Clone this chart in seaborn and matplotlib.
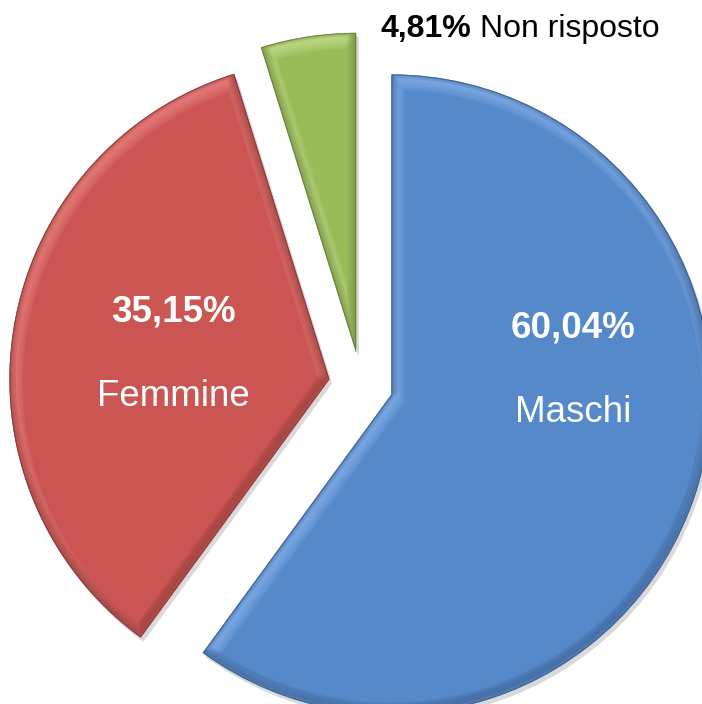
import numpy as np
import matplotlib
matplotlib.use("Agg")
import matplotlib.pyplot as plt
import matplotlib.patheffects as pe
import matplotlib.transforms as mtransforms
from matplotlib.patches import Wedge
import seaborn as sns

# data
categories = ["Maschi", "Femmine", "Non risposto"]
shares = [60.04, 35.15, 4.81]
pct_labels = ["60,04%", "35,15%", "4,81%"]
colors = ["#5589C9", "#CB5553", "#9BBB59"]
light_colors = ["#8DB6EE", "#EE8A88", "#C8E396"]
dark_colors = ["#2E4F7C", "#7A2B2A", "#566F27"]

sns.set_theme(style="white")
plt.rcParams["font.family"] = ["Liberation Sans", "DejaVu Sans"]

W, H = 702, 704
fig = plt.figure(figsize=(W / 100, H / 100), dpi=100)
ax = fig.add_axes([0, 0, 1, 1])

wedges, _ = ax.pie(
    shares, colors=colors, startangle=90, counterclock=False,
    explode=[0.1, 0.1, 0.1], radius=1.0,
    wedgeprops=dict(linewidth=0),
)

# pie centre and radius in pixels (limits set after pie, which resets them)
cx, cy, rad = 361, 384.5, 320
ax.set_xlim(-cx / rad, (W - cx) / rad)
ax.set_ylim(-(H - cy) / rad, cy / rad)
ax.set_aspect("equal")
ax.axis("off")


def shifted(dx, dy):
    return ax.transData + mtransforms.ScaledTranslation(dx / 72, dy / 72, fig.dpi_scale_trans)


def edge_stroke(w, col, lw, d, a):
    p = Wedge(w.center, w.r, w.theta1, w.theta2, facecolor="none",
              edgecolor=col, linewidth=lw, alpha=a, joinstyle="miter",
              transform=shifted(*d))
    ax.add_patch(p)
    p.set_clip_path(w)


# soft bevel: light band on upper edges, dark band on lower edges
for w, lc, dc in zip(wedges, light_colors, dark_colors):
    w.set_path_effects([
        pe.SimplePatchShadow(offset=(2, -3), shadow_rgbFace="#000000", alpha=0.15),
        pe.Normal(),
    ])
    for lw in [4, 8, 12, 16]:
        edge_stroke(w, lc, lw, (1.5, -3), 0.22)
    for lw in [2, 5, 8, 11]:
        edge_stroke(w, dc, lw, (-1, 3), 0.16)
    edge_stroke(w, dc, 1.5, (0, 0), 0.6)


def px(x, y):
    return x / W, 1 - y / H


white = dict(color="white", ha="center", va="center", fontsize=26.5)
fig.text(*px(573, 328), pct_labels[0], fontweight="bold", **white)
fig.text(*px(573, 412), categories[0], **white)
fig.text(*px(173, 312), pct_labels[1], fontweight="bold", **white)
fig.text(*px(173, 397), categories[1], **white)

t1 = fig.text(*px(381, 29), pct_labels[2], fontweight="bold", color="black",
              ha="left", va="center", fontsize=23)
fig.canvas.draw()
bb = t1.get_window_extent()
fig.text((bb.x1 + 8) / W, 1 - 29 / H, categories[2], color="black",
         ha="left", va="center", fontsize=23)

fig.savefig("out.png", dpi=100)
